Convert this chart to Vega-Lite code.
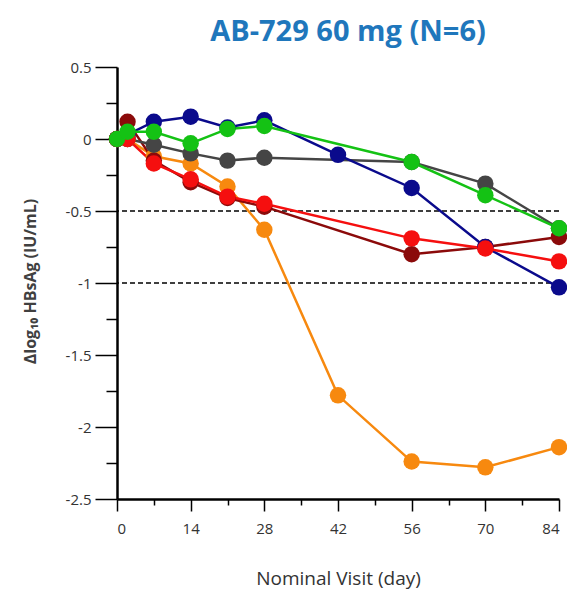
{
  "$schema": "https://vega.github.io/schema/vega-lite/v6.json",
  "autosize": "none",
  "width": 442,
  "height": 432,
  "padding": {"left": 117, "top": 67, "right": 8, "bottom": 96},
  "background": "white",
  "config": {"view": {"stroke": null}, "font": "Open Sans"},
  "title": {
    "text": "AB-729 60 mg (N=6)",
    "fontSize": 29,
    "fontWeight": "bold",
    "color": "#1f77bc",
    "font": "Open Sans",
    "anchor": "middle",
    "dx": 10,
    "offset": 13
  },
  "datasets": {
    "subjects": [
      {"subject": "S6", "day": 0, "value": 0},
      {"subject": "S6", "day": 2, "value": 0.0},
      {"subject": "S6", "day": 7, "value": -0.12},
      {"subject": "S6", "day": 14, "value": -0.17},
      {"subject": "S6", "day": 21, "value": -0.33},
      {"subject": "S6", "day": 28, "value": -0.63},
      {"subject": "S6", "day": 42, "value": -1.78},
      {"subject": "S6", "day": 56, "value": -2.24},
      {"subject": "S6", "day": 70, "value": -2.28},
      {"subject": "S6", "day": 84, "value": -2.14},
      {"subject": "S1", "day": 0, "value": 0},
      {"subject": "S1", "day": 2, "value": 0.12},
      {"subject": "S1", "day": 7, "value": -0.15},
      {"subject": "S1", "day": 14, "value": -0.3},
      {"subject": "S1", "day": 21, "value": -0.41},
      {"subject": "S1", "day": 28, "value": -0.47},
      {"subject": "S1", "day": 56, "value": -0.8},
      {"subject": "S1", "day": 70, "value": -0.75},
      {"subject": "S1", "day": 84, "value": -0.68},
      {"subject": "S4", "day": 0, "value": 0},
      {"subject": "S4", "day": 2, "value": 0.0},
      {"subject": "S4", "day": 7, "value": -0.04},
      {"subject": "S4", "day": 14, "value": -0.1},
      {"subject": "S4", "day": 21, "value": -0.15},
      {"subject": "S4", "day": 28, "value": -0.13},
      {"subject": "S4", "day": 56, "value": -0.16},
      {"subject": "S4", "day": 70, "value": -0.31},
      {"subject": "S4", "day": 84, "value": -0.62},
      {"subject": "S2", "day": 0, "value": 0},
      {"subject": "S2", "day": 2, "value": 0.03},
      {"subject": "S2", "day": 7, "value": 0.12},
      {"subject": "S2", "day": 14, "value": 0.155},
      {"subject": "S2", "day": 21, "value": 0.08},
      {"subject": "S2", "day": 28, "value": 0.13},
      {"subject": "S2", "day": 42, "value": -0.11},
      {"subject": "S2", "day": 56, "value": -0.34},
      {"subject": "S2", "day": 70, "value": -0.75},
      {"subject": "S2", "day": 84, "value": -1.03},
      {"subject": "S5", "day": 0, "value": 0},
      {"subject": "S5", "day": 2, "value": 0.0},
      {"subject": "S5", "day": 7, "value": -0.17},
      {"subject": "S5", "day": 14, "value": -0.28},
      {"subject": "S5", "day": 21, "value": -0.4},
      {"subject": "S5", "day": 28, "value": -0.45},
      {"subject": "S5", "day": 56, "value": -0.69},
      {"subject": "S5", "day": 70, "value": -0.76},
      {"subject": "S5", "day": 84, "value": -0.85},
      {"subject": "S3", "day": 0, "value": 0},
      {"subject": "S3", "day": 2, "value": 0.05},
      {"subject": "S3", "day": 7, "value": 0.05},
      {"subject": "S3", "day": 14, "value": -0.03},
      {"subject": "S3", "day": 21, "value": 0.07},
      {"subject": "S3", "day": 28, "value": 0.09},
      {"subject": "S3", "day": 56, "value": -0.16},
      {"subject": "S3", "day": 70, "value": -0.39},
      {"subject": "S3", "day": 84, "value": -0.62}
    ],
    "refs": [{"threshold": -0.5}, {"threshold": -1}]
  },
  "layer": [
    {
      "data": {"name": "refs"},
      "mark": {"type": "rule", "color": "black", "strokeWidth": 1.3, "strokeDash": [5, 3]},
      "encoding": {
        "y": {
          "field": "threshold", "type": "quantitative",
          "scale": {"domain": [-2.5, 0.5], "nice": false},
          "axis": {
            "values": [-2.5, -2.25, -2, -1.75, -1.5, -1.25, -1, -0.75, -0.5, -0.25, 0, 0.25, 0.5],
            "labelExpr": "abs(datum.value * 2 - round(datum.value * 2)) < 0.001 ? '' + datum.value : ''",
            "tickSize": {"condition": {"test": "abs(datum.value * 2 - round(datum.value * 2)) < 0.001", "value": 22}, "value": 11},
            "tickColor": "black", "tickWidth": 1.5,
            "domainColor": "black", "domainWidth": 2.5,
            "grid": false,
            "labelFontSize": 15, "labelColor": "#333", "labelFont": "Open Sans", "labelPadding": 4,
            "title": "Δlog₁₀ HBsAg (IU/mL)",
            "titleFontSize": 16, "titleFontWeight": "bold", "titleColor": "#404040", "titleFont": "Open Sans",
            "titleX": -87, "titleY": 214, "titleAngle": -90, "titleAlign": "center", "titleBaseline": "middle"
          }
        }
      }
    },
    {
      "data": {"name": "subjects"},
      "mark": {"type": "line", "strokeWidth": 2.5, "point": {"filled": true, "size": 270, "opacity": 1}},
      "encoding": {
        "x": {
          "field": "day", "type": "quantitative",
          "scale": {"domain": [0, 84], "nice": false},
          "axis": {
            "values": [0, 7, 14, 21, 28, 35, 42, 49, 56, 63, 70, 77, 84],
            "labelExpr": "datum.value % 14 == 0 ? datum.label : ''",
            "tickSize": {"condition": {"test": "datum.value % 14 == 0", "value": 12}, "value": 6},
            "tickColor": "black", "tickWidth": 1.5,
            "domainColor": "black", "domainWidth": 2.5,
            "grid": false,
            "labelFontSize": 15, "labelColor": "#333", "labelFont": "Open Sans", "labelPadding": 10,
            "title": "Nominal Visit (day)",
            "titleFontSize": 19, "titleFontWeight": "normal", "titleColor": "#333", "titleFont": "Open Sans",
            "titleY": 79, "titleBaseline": "middle"
          }
        },
        "y": {
          "field": "value", "type": "quantitative",
          "scale": {"domain": [-2.5, 0.5], "nice": false},
          "axis": {
            "values": [-2.5, -2.25, -2, -1.75, -1.5, -1.25, -1, -0.75, -0.5, -0.25, 0, 0.25, 0.5],
            "labelExpr": "abs(datum.value * 2 - round(datum.value * 2)) < 0.001 ? '' + datum.value : ''",
            "tickSize": {"condition": {"test": "abs(datum.value * 2 - round(datum.value * 2)) < 0.001", "value": 22}, "value": 11},
            "tickColor": "black", "tickWidth": 1.5,
            "domainColor": "black", "domainWidth": 2.5,
            "grid": false,
            "labelFontSize": 15, "labelColor": "#333", "labelFont": "Open Sans", "labelPadding": 4,
            "title": "Δlog₁₀ HBsAg (IU/mL)",
            "titleFontSize": 16, "titleFontWeight": "bold", "titleColor": "#404040", "titleFont": "Open Sans",
            "titleX": -87, "titleY": 214, "titleAngle": -90, "titleAlign": "center", "titleBaseline": "middle"
          }
        },
        "color": {
          "field": "subject", "type": "nominal",
          "scale": {
            "domain": ["S6", "S1", "S4", "S2", "S5", "S3"],
            "range": ["#f7890f", "#8b0a0a", "#454545", "#0a0a8c", "#f50f0f", "#14c214"]
          },
          "legend": null
        }
      }
    }
  ]
}
